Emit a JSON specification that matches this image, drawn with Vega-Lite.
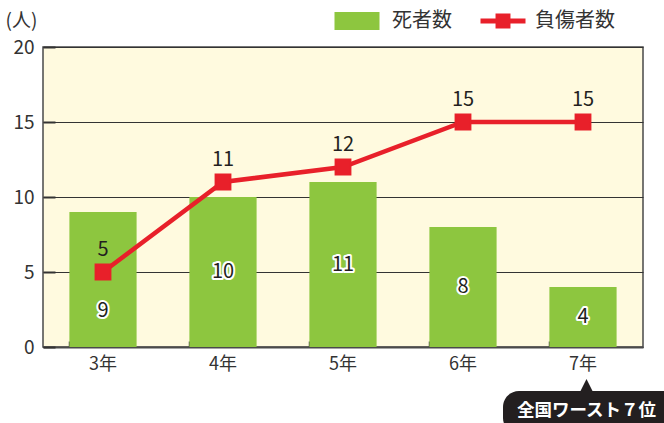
{
  "$schema": "https://vega.github.io/schema/vega-lite/v6.json",
  "width": 600,
  "height": 300,
  "autosize": {"type": "none"},
  "padding": {"left": 43, "top": 47, "right": 21, "bottom": 76},
  "background": "white",
  "config": {
    "font": "Noto Sans CJK JP",
    "view": {"fill": "#fffadf", "stroke": "#4a4a4a", "strokeWidth": 1.5},
    "legend": {"padding": 0}
  },
  "data": {
    "values": [
      {"year": "3年", "deaths": 9, "injuries": 5},
      {"year": "4年", "deaths": 10, "injuries": 11},
      {"year": "5年", "deaths": 11, "injuries": 12},
      {"year": "6年", "deaths": 8, "injuries": 15},
      {"year": "7年", "deaths": 4, "injuries": 15}
    ]
  },
  "encoding": {
    "x": {
      "field": "year",
      "type": "nominal",
      "scale": {"domain": ["3年", "4年", "5年", "6年", "7年"], "paddingInner": 0.44, "paddingOuter": 0.22},
      "axis": {
        "title": null,
        "labelAngle": 0,
        "labelFontSize": 18,
        "labelColor": "#333333",
        "bandPosition": 0,
        "tickSize": -6,
        "tickColor": "#4a4a4a",
        "tickWidth": 1.5,
        "domainColor": "#4a4a4a",
        "domainWidth": 2,
        "labelPadding": 14,
        "grid": false
      }
    }
  },
  "layer": [
    {
      "mark": {"type": "bar", "color": "#8dc63f"},
      "encoding": {
        "y": {
          "field": "deaths",
          "type": "quantitative",
          "scale": {"domain": [0, 20], "nice": false},
          "axis": {
            "title": "(人)",
            "titleAngle": 0,
            "titleX": -38,
            "titleY": -27,
            "titleAlign": "left",
            "titleBaseline": "middle",
            "titleFontSize": 19,
            "titleFontWeight": "normal",
            "titleColor": "#333333",
            "values": [0, 5, 10, 15, 20],
            "labelFontSize": 19,
            "labelColor": "#333333",
            "labelPadding": 21,
            "tickSize": -12,
            "tickWidth": 2,
            "tickColor": "#333333",
            "gridColor": "#333333",
            "gridWidth": 1.2,
            "domain": false
          }
        },
        "fill": {
          "datum": "死者数",
          "scale": {"range": ["#8dc63f"]},
          "legend": {
            "title": null,
            "orient": "none",
            "legendX": 304,
            "legendY": -36,
            "symbolType": "M-2.5,-1H2.5V1H-2.5Z",
            "symbolSize": 324,
            "symbolStrokeWidth": 0,
            "labelFontSize": 20,
            "labelOffset": 25,
            "labelColor": "#333333"
          }
        }
      }
    },
    {
      "transform": [{"calculate": "datum.year == '3年' ? 2.4 : datum.deaths / 2", "as": "ly"}],
      "mark": {"type": "text", "fontSize": 20, "fill": "#231f20", "stroke": "white", "strokeWidth": 4, "strokeJoin": "round", "baseline": "middle"},
      "encoding": {
        "y": {"field": "ly", "type": "quantitative"},
        "text": {"field": "deaths"}
      }
    },
    {
      "transform": [{"calculate": "datum.year == '3年' ? 2.4 : datum.deaths / 2", "as": "ly"}],
      "mark": {"type": "text", "fontSize": 20, "fill": "#231f20", "baseline": "middle"},
      "encoding": {
        "y": {"field": "ly", "type": "quantitative"},
        "text": {"field": "deaths"}
      }
    },
    {
      "mark": {
        "type": "line",
        "color": "#e8202a",
        "strokeWidth": 4.5,
        "point": {"shape": "square", "filled": true, "size": 220, "color": "#e8202a"}
      },
      "encoding": {
        "y": {"field": "injuries", "type": "quantitative"},
        "stroke": {
          "datum": "負傷者数",
          "scale": {"range": ["#e8202a"]},
          "legend": {
            "title": null,
            "orient": "none",
            "legendX": 450,
            "legendY": -36,
            "symbolType": "M-2.5,-0.28H2.5V0.28H-2.5Z M-0.83,-0.83H0.83V0.83H-0.83Z",
            "symbolSize": 324,
            "symbolFillColor": "#e8202a",
            "symbolStrokeWidth": 0,
            "labelFontSize": 20,
            "labelOffset": 22,
            "labelColor": "#333333",
            "encode": {"symbols": {"update": {"fill": {"value": "#e8202a"}, "strokeWidth": {"value": 0}}}}
          }
        }
      }
    },
    {
      "mark": {"type": "text", "fontSize": 20, "fill": "#231f20", "baseline": "middle", "dy": -22},
      "encoding": {
        "y": {"field": "injuries", "type": "quantitative"},
        "text": {"field": "injuries"}
      }
    },
    {
      "data": {"values": [{"year": "7年", "label": "全国ワースト７位"}]},
      "mark": {"type": "bar", "width": 178, "xOffset": 9, "cornerRadius": 16, "color": "#231f20"},
      "encoding": {
        "y": {"datum": -2.93},
        "y2": {"datum": -5.8}
      }
    },
    {
      "data": {"values": [{"year": "7年", "label": "全国ワースト７位"}]},
      "mark": {"type": "point", "shape": "M0,-1L1,1L-1,1Z", "filled": true, "size": 196, "xOffset": 3.5, "color": "#231f20", "strokeWidth": 0, "opacity": 1},
      "encoding": {
        "y": {"datum": -2.6}
      }
    },
    {
      "data": {"values": [{"year": "7年", "label": "全国ワースト７位"}]},
      "mark": {"type": "text", "fontSize": 17.5, "fontWeight": "bold", "fill": "white", "baseline": "middle", "xOffset": 3.5},
      "encoding": {
        "y": {"datum": -4.27},
        "text": {"field": "label"}
      }
    }
  ]
}
